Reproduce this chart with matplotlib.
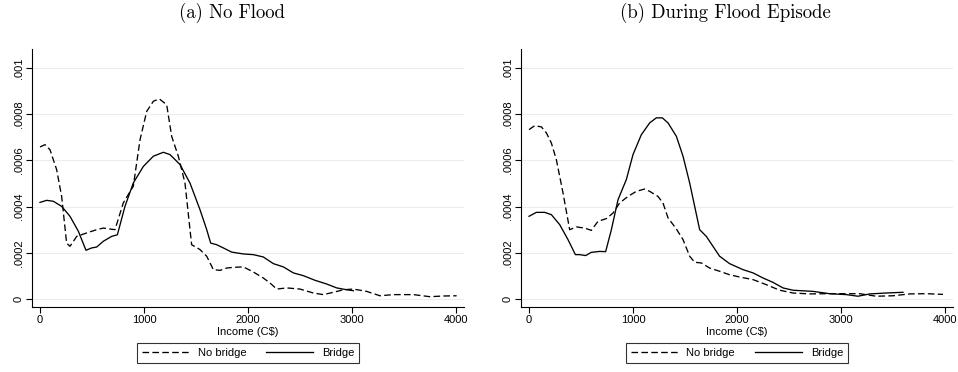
import matplotlib
matplotlib.use("Agg")
import matplotlib.pyplot as plt

# income grid points (C$) and kernel density estimates
# (a) No Flood
nf_nobridge_x = [0, 48, 96, 160, 208, 256, 288, 353, 449, 545, 609, 721, 801, 897, 962,
                 1026, 1090, 1147, 1218, 1266, 1330, 1394, 1458, 1538, 1603, 1667, 1731,
                 1795, 1859, 1955, 2051, 2147, 2212, 2276, 2372, 2500, 2628, 2724, 2821,
                 2917, 3013, 3141, 3269, 3397, 3590, 3750, 3878, 4006]
nf_nobridge_y = [6.58, 6.68, 6.46, 5.60, 4.44, 2.42, 2.28, 2.71, 2.86, 3.00, 3.07, 3.00,
                 4.16, 4.88, 6.90, 8.12, 8.56, 8.66, 8.41, 7.04, 6.18, 5.02, 2.35, 2.14,
                 1.85, 1.27, 1.24, 1.34, 1.37, 1.39, 1.17, 0.91, 0.69, 0.43, 0.48, 0.43,
                 0.26, 0.19, 0.29, 0.40, 0.43, 0.33, 0.14, 0.19, 0.19, 0.10, 0.13, 0.14]
nf_bridge_x = [0, 64, 128, 208, 288, 369, 442, 497, 545, 609, 689, 744, 817, 897, 994,
               1090, 1186, 1250, 1346, 1442, 1538, 1603, 1641, 1699, 1763, 1843, 1955,
               2051, 2147, 2244, 2340, 2436, 2532, 2644, 2756, 2853, 2949, 3013]
nf_bridge_y = [4.18, 4.27, 4.23, 4.01, 3.58, 2.93, 2.11, 2.21, 2.25, 2.50, 2.71, 2.78,
               4.01, 5.02, 5.74, 6.18, 6.35, 6.25, 5.82, 5.02, 3.87, 3.00, 2.42, 2.35,
               2.21, 2.03, 1.95, 1.92, 1.82, 1.53, 1.39, 1.13, 1.01, 0.81, 0.65, 0.48,
               0.40, 0.36]

# (b) During Flood Episode
fl_nobridge_x = [0, 54, 119, 167, 215, 263, 327, 391, 455, 535, 599, 663, 744, 808, 872,
                 952, 1032, 1112, 1160, 1240, 1288, 1337, 1417, 1481, 1545, 1593, 1657,
                 1737, 1833, 1929, 2026, 2154, 2282, 2410, 2538, 2699, 2859, 3019, 3179,
                 3340, 3500, 3660, 3821, 3981]
fl_nobridge_y = [7.33, 7.50, 7.45, 7.19, 6.75, 6.03, 4.59, 3.00, 3.12, 3.07, 2.97, 3.36,
                 3.48, 3.72, 4.16, 4.44, 4.66, 4.76, 4.66, 4.44, 4.16, 3.51, 3.03, 2.57,
                 1.85, 1.59, 1.56, 1.34, 1.20, 1.05, 0.95, 0.84, 0.62, 0.38, 0.26, 0.22,
                 0.23, 0.23, 0.23, 0.12, 0.14, 0.22, 0.23, 0.20]
fl_bridge_x = [0, 71, 151, 215, 295, 375, 446, 487, 545, 599, 679, 737, 792, 856, 936,
               1000, 1080, 1160, 1224, 1282, 1337, 1417, 1481, 1545, 1593, 1641, 1705,
               1769, 1833, 1929, 2058, 2154, 2250, 2346, 2442, 2538, 2731, 2891, 3051,
               3163, 3276, 3436, 3596]
fl_bridge_y = [3.58, 3.75, 3.75, 3.65, 3.22, 2.57, 1.92, 1.92, 1.88, 2.02, 2.06, 2.05,
               3.00, 4.30, 5.17, 6.25, 7.11, 7.62, 7.84, 7.84, 7.62, 7.04, 6.18, 5.02,
               4.01, 3.00, 2.71, 2.28, 1.85, 1.53, 1.27, 1.13, 0.91, 0.72, 0.48, 0.38,
               0.33, 0.23, 0.19, 0.12, 0.22, 0.26, 0.29]

panel_titles = ["(a) No Flood", "(b) During Flood Episode"]
x_ticks = [0, 1000, 2000, 3000, 4000]
y_ticks = [0, 0.0002, 0.0004, 0.0006, 0.0008, 0.001]
y_tick_labels = ["0", ".0002", ".0004", ".0006", ".0008", ".001"]
legend_labels = ["No bridge", "Bridge"]

plt.rcParams["font.family"] = ["Liberation Sans", "DejaVu Sans"]

fig = plt.figure(figsize=(9.58, 3.72), dpi=100)
W, H = 958, 372

panels = [
    (32, nf_nobridge_x, nf_nobridge_y, nf_bridge_x, nf_bridge_y, 232),
    (521, fl_nobridge_x, fl_nobridge_y, fl_bridge_x, fl_bridge_y, 725),
]

for i, (left, nbx, nby, bx, by, tx) in enumerate(panels):
    ax = fig.add_axes([left / W, 1 - 307 / H, 432 / W, 258 / H])
    ax.plot(nbx, [v * 1e-4 for v in nby], color="black", lw=0.95,
            dashes=(5, 2.5), label=legend_labels[0])
    ax.plot(bx, [v * 1e-4 for v in by], color="black", lw=0.95,
            label=legend_labels[1])

    ax.set_xlim(-77, 4077)
    ax.set_ylim(-0.0000346, 0.001082)
    ax.set_xticks(x_ticks)
    ax.set_xticklabels([str(t) for t in x_ticks], fontsize=8)
    ax.set_yticks(y_ticks)
    ax.set_yticklabels(y_tick_labels, fontsize=8, rotation=90, va="center")
    ax.tick_params(axis="both", direction="out", length=4, width=0.8, pad=2)
    ax.grid(axis="y", color="#e6eff0", lw=0.8)
    ax.set_axisbelow(True)
    for s in ["top", "right"]:
        ax.spines[s].set_visible(False)
    for s in ["left", "bottom"]:
        ax.spines[s].set_linewidth(0.8)
    ax.set_xlabel("Income (C$)", fontsize=8, labelpad=1)

    leg = ax.legend(loc="upper center", bbox_to_anchor=(0.5, -0.14), ncol=2,
                    fontsize=8, frameon=True, fancybox=False, edgecolor="black",
                    handlelength=4.2, columnspacing=1.8, borderpad=0.45,
                    handletextpad=0.8, borderaxespad=0)
    leg.get_frame().set_linewidth(0.8)

    fig.text(tx / W, 1 - 13 / H, panel_titles[i], fontname="cmr10",
             fontsize=13.5, ha="center", va="center")

fig.savefig("out.png", dpi=100)
